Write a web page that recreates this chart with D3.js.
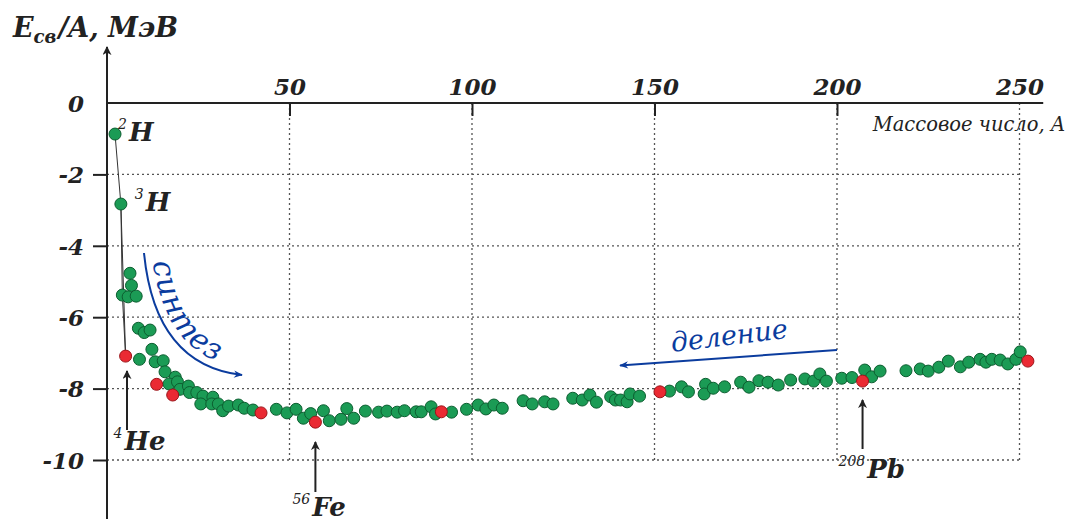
<!DOCTYPE html>
<html>
<head>
<meta charset="utf-8">
<script src="https://cdn.jsdelivr.net/npm/d3@7"></script>
<style>
  body { margin: 0; background: #fff; }
  svg { display: block; }
  text { font-family: "DejaVu Serif", serif; }
</style>
</head>
<body>
<svg width="1067" height="519"></svg>
<script>
// ---- Dados: [A, E/A (МэВ)]
const greenNuclei = [
  [2.2, -0.87], [3.8, -2.83], [6.3, -4.77], [6.7, -5.11], [4.2, -5.38], [5.8, -5.43], [8.0, -5.41],
  [8.6, -6.31], [10.2, -6.43], [11.8, -6.36], [8.9, -7.18], [12.3, -6.90], [13.2, -7.25], [15.4, -7.22],
  [15.9, -7.53], [18.7, -7.68], [17.0, -7.87], [19.3, -7.81], [20.0, -8.02], [22.3, -7.93], [22.6, -8.11],
  [24.6, -8.11], [26.3, -8.21], [25.7, -8.43], [29.0, -8.24], [28.7, -8.43], [30.5, -8.43], [31.7, -8.62],
  [33.3, -8.49], [36.0, -8.46], [37.6, -8.55], [40.0, -8.60], [46.4, -8.58], [49.3, -8.68], [51.8, -8.58],
  [53.8, -8.83], [55.8, -8.70], [59.3, -8.62], [60.9, -8.90], [64.1, -8.86], [65.7, -8.56], [67.6, -8.83],
  [70.8, -8.63], [74.4, -8.66], [76.7, -8.63], [79.5, -8.66], [81.5, -8.62], [84.7, -8.65], [86.1, -8.65],
  [88.8, -8.51], [90.0, -8.71], [94.4, -8.66], [98.5, -8.58], [101.7, -8.46], [103.8, -8.57], [106.0, -8.46],
  [108.3, -8.55], [114.0, -8.34], [116.5, -8.43], [119.9, -8.37], [122.2, -8.43], [127.6, -8.27], [130.2, -8.32],
  [132.3, -8.18], [134.1, -8.38], [138.0, -8.23], [139.3, -8.32], [140.7, -8.32], [142.5, -8.37], [143.3, -8.15],
  [145.9, -8.21], [154.1, -8.07], [157.4, -7.95], [159.3, -8.09], [164.0, -7.88], [163.6, -8.15], [166.1, -7.99],
  [169.2, -7.95], [173.6, -7.82], [175.9, -7.96], [178.6, -7.78], [181.1, -7.82], [183.9, -7.90], [187.3, -7.76],
  [191.2, -7.73], [193.6, -7.79], [195.3, -7.59], [197.1, -7.79], [201.3, -7.71], [204.1, -7.69], [207.6, -7.48],
  [209.5, -7.67], [211.8, -7.51], [218.9, -7.50], [222.8, -7.45], [225.0, -7.51], [227.9, -7.40], [230.5, -7.23],
  [233.8, -7.39], [236.1, -7.26], [239.2, -7.18], [240.8, -7.26], [242.4, -7.18], [244.7, -7.20], [246.8, -7.31],
  [249.0, -7.18], [250.2, -6.97]
];
const redNuclei = [
  [5.1, -7.09], [13.6, -7.88], [18.0, -8.18], [42.2, -8.68], [57.1, -8.94],
  [91.6, -8.65], [151.5, -8.09], [207.0, -7.79], [252.3, -7.23]
];
const xTicks = [50, 100, 150, 200, 250];
const yTicks = [0, -2, -4, -6, -8, -10];

const H2 = greenNuclei[0], H3 = greenNuclei[1], Li = greenNuclei[4];
const He4 = redNuclei[0], Fe56 = redNuclei[4], Pb208 = redNuclei[7];

const svg = d3.select('svg');

// ---- Escalas
const mapX = d3.scaleLinear().domain([0, 250]).range([107, 1019.5]);
const mapY = d3.scaleLinear().domain([0, -10]).range([103, 460]);

const defs = svg.append('defs');
defs.append('marker').attr('id', 'arrBlack')
  .attr('viewBox', '0 0 10 10').attr('refX', 9).attr('refY', 5)
  .attr('markerWidth', 9).attr('markerHeight', 9).attr('markerUnits', 'userSpaceOnUse')
  .attr('orient', 'auto')
  .append('path').attr('d', 'M0,0 L10,5 L0,10 L3,5 Z').attr('fill', '#222');
defs.append('marker').attr('id', 'arrBlue')
  .attr('viewBox', '0 0 10 10').attr('refX', 9).attr('refY', 5)
  .attr('markerWidth', 14).attr('markerHeight', 9).attr('markerUnits', 'userSpaceOnUse')
  .attr('orient', 'auto')
  .append('path').attr('d', 'M0,1 L10,5 L0,9 L3,5 Z').attr('fill', '#0b3c9e');

// ---- Grade pontilhada
const grid = svg.append('g');
grid.selectAll('.vgrid').data(xTicks).join('line')
  .attr('x1', d => mapX(d)).attr('x2', d => mapX(d))
  .attr('y1', mapY(0)).attr('y2', mapY(-10))
  .attr('stroke', '#555').attr('stroke-width', 1.3).attr('stroke-dasharray', '2,3');
grid.selectAll('.hgrid').data(yTicks.filter(d => d !== 0)).join('line')
  .attr('x1', mapX(0)).attr('x2', mapX(250))
  .attr('y1', d => mapY(d)).attr('y2', d => mapY(d))
  .attr('stroke', '#555').attr('stroke-width', 1.3).attr('stroke-dasharray', '2,3');

// ---- Eixos
const tickFont = g => g.selectAll('text').attr('fill', '#222')
  .style('font-family', '"DejaVu Serif", serif').style('font-style', 'italic')
  .style('font-weight', 'bold').style('font-size', '23px');

const xAxis = d3.axisTop(mapX).tickValues(xTicks).tickSizeInner(-13).tickSizeOuter(0).tickPadding(8);
svg.append('g')
  .attr('transform', `translate(0, ${mapY(0)})`)
  .call(xAxis)
  .call(g => g.select('.domain').remove())
  .call(g => g.selectAll('line').attr('stroke', '#222').attr('stroke-width', 2)
    .filter(d => d === 250).remove())
  .call(tickFont);

const yAxis = d3.axisLeft(mapY).tickValues(yTicks).tickSizeInner(14).tickSizeOuter(0).tickPadding(9)
  .tickFormat(d => d === 0 ? '0' : '-' + Math.abs(d));
svg.append('g')
  .attr('transform', `translate(${mapX(0)}, 0)`)
  .call(yAxis)
  .call(g => g.select('.domain').remove())
  .call(g => g.selectAll('line').attr('stroke', '#222').attr('stroke-width', 2)
    .filter(d => d === 0).remove())
  .call(tickFont)
  .call(g => g.selectAll('text').attr('dy', '0.36em'));

// eixo x (linha)
svg.append('line')
  .attr('x1', mapX(0)).attr('x2', mapX(256.5))
  .attr('y1', mapY(0)).attr('y2', mapY(0))
  .attr('stroke', '#222').attr('stroke-width', 2);
// eixo y com seta
svg.append('line')
  .attr('x1', mapX(0)).attr('x2', mapX(0))
  .attr('y1', 519).attr('y2', 47)
  .attr('stroke', '#222').attr('stroke-width', 2)
  .attr('marker-end', 'url(#arrBlack)');

// títulos dos eixos
const yTitle = svg.append('text')
  .attr('x', 13).attr('y', 37)
  .attr('fill', '#222')
  .style('font-style', 'italic').style('font-weight', 'bold').style('font-size', '27px');
yTitle.append('tspan').text('E');
yTitle.append('tspan').attr('dy', 6).style('font-size', '18px').text('св');
yTitle.append('tspan').attr('dx', 2).attr('dy', -6).text('/A, МэВ');

svg.append('text')
  .attr('x', 1065).attr('y', 131)
  .attr('text-anchor', 'end')
  .attr('fill', '#222')
  .style('font-style', 'italic').style('font-size', '19.5px')
  .text('Массовое число, A');

// ---- Linhas dos núcleos leves
const line = d3.line().x(d => mapX(d[0])).y(d => mapY(d[1]));
svg.append('path').datum([H2, H3, He4]).attr('d', line)
  .attr('fill', 'none').attr('stroke', '#333').attr('stroke-width', 1);
svg.append('path').datum([H3, Li, He4]).attr('d', line)
  .attr('fill', 'none').attr('stroke', '#333').attr('stroke-width', 1);

// ---- Pontos
const pts = svg.append('g');
pts.selectAll('.g').data(greenNuclei).join('circle')
  .attr('cx', d => mapX(d[0])).attr('cy', d => mapY(d[1])).attr('r', 6)
  .attr('fill', '#1b9b55').attr('stroke', '#0c5e30').attr('stroke-width', 1);
pts.selectAll('.r').data(redNuclei).join('circle')
  .attr('cx', d => mapX(d[0])).attr('cy', d => mapY(d[1])).attr('r', 6)
  .attr('fill', '#ea2a33').attr('stroke', '#9c1419').attr('stroke-width', 1);

// ---- Rótulos dos núcleos
function nucLabel(x, y, sup, name) {
  const t = svg.append('text').attr('x', x).attr('y', y).attr('fill', '#222')
    .style('font-style', 'italic');
  t.append('tspan').attr('dy', -12).style('font-size', '14px').text(sup);
  t.append('tspan').attr('dx', 2).attr('dy', 12)
    .style('font-size', '26px').style('font-weight', 'bold').text(name);
}
nucLabel(mapX(H2[0]) + 3, mapY(H2[1]) + 7, '2', 'H');
nucLabel(mapX(H3[0]) + 14, mapY(H3[1]) + 7, '3', 'H');
nucLabel(mapX(He4[0]) - 12, 450, '4', 'He');
nucLabel(mapX(Fe56[0]) - 23, 516, '56', 'Fe');
nucLabel(mapX(Pb208[0]) - 24, 478, '208', 'Pb');

function upArrow(d, y1, y2) {
  svg.append('line')
    .attr('x1', mapX(d[0])).attr('x2', mapX(d[0]))
    .attr('y1', y1).attr('y2', y2)
    .attr('stroke', '#222').attr('stroke-width', 2)
    .attr('marker-end', 'url(#arrBlack)');
}
upArrow([mapX.invert(127)], 430, 371);
upArrow(Fe56, 492, 442);
upArrow(Pb208, 449, 400);

// ---- Síntese e fissão
const blue = '#0b3c9e';
svg.append('path')
  .attr('d', 'M144,253 Q155,365 242,375')
  .attr('fill', 'none').attr('stroke', blue).attr('stroke-width', 2)
  .attr('marker-end', 'url(#arrBlue)');
defs.append('path').attr('id', 'synthPath').attr('d', 'M151,250 Q163,360 246,368');
svg.append('text')
  .attr('fill', blue)
  .style('font-style', 'italic').style('font-size', '30px')
  .append('textPath').attr('href', '#synthPath').attr('startOffset', 12)
  .style('letter-spacing', '1px')
  .text('синтез');

svg.append('line')
  .attr('x1', 837).attr('y1', 350).attr('x2', 620).attr('y2', 365.5)
  .attr('stroke', blue).attr('stroke-width', 2)
  .attr('marker-end', 'url(#arrBlue)');
svg.append('text')
  .attr('transform', 'translate(672,352) rotate(-7)')
  .attr('fill', blue)
  .style('font-style', 'italic').style('font-size', '27px')
  .text('деление');
</script>
</body>
</html>
